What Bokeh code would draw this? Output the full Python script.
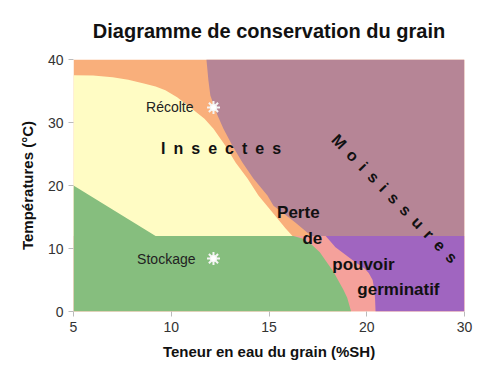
from bokeh.plotting import figure
from bokeh.models import FixedTicker, Range1d
from bokeh.embed import file_html
from bokeh.resources import INLINE

# ---- data (real %SH on x, °C on y) ----
x_tick_values = [5, 10, 15, 20, 30]
x_tick_labels = ["5", "10", "15", "20", "30"]
y_tick_values = [0, 10, 20, 30, 40]

mauve_edge_x = [11.8, 11.9, 12.0, 12.37, 12.67, 13.13, 13.64, 14.2, 14.92, 15.23, 15.69, 16.36, 16.97, 17.2]
mauve_edge_y = [40, 36.7, 34.3, 31.1, 29.0, 26.3, 23.65, 21.1, 18.4, 16.8, 15.7, 14.1, 12.5, 12.0]

yellow_edge_x = [5, 6.0, 7.0, 7.8, 8.6, 9.2, 9.7, 10.3, 10.8, 11.3, 11.7, 12.16, 12.77, 13.29, 13.9, 14.46, 15.18, 15.84, 16.2]
yellow_edge_y = [37.5, 37.45, 37.2, 36.8, 36.2, 35.7, 35.1, 34.0, 32.8, 31.6, 30.6, 29.0, 26.3, 23.65, 21.1, 18.4, 15.7, 13.2, 12.0]

green_x = [5, 5, 9.2, 16.25, 16.7, 17.12, 17.6, 18.0, 18.3, 18.55, 18.8, 19.0, 19.2]
green_y = [0, 20, 12, 12, 11.6, 10.8, 9.4, 7.6, 6.3, 4.9, 3.5, 2.2, 0]

violet_x = [17.9, 30, 30, 20.9, 20.85, 20.8, 20.6, 20.2, 19.9, 19.3, 18.4]
violet_y = [12, 12, 0, 0, 2.0, 3.3, 5.0, 6.1, 6.8, 8.1, 10.2]

pink_x = [5, 30, 30, 5]
pink_y = [0, 0, 12, 12]

orange_x = [5, 30, 30, 5]
orange_y = [0, 0, 40, 40]

star_x = [12.16, 12.16]
star_y = [32.4, 8.4]
star_names = ["Récolte", "Stockage"]
small_label_x = [11.14, 11.24]

big_labels = ["Perte", "de", "pouvoir", "germinatif"]
big_label_x = [16.5, 17.22, 19.83, 23.24]
big_label_y = [15.7, 11.6, 7.5, 3.5]

insectes_pos = (12.55, 25.9)
moisissures_pos = (22.84, 17.9)


def disp(x):
    """Axis between 20 and 30 is drawn at half scale."""
    return x if x <= 20 else 20 + (x - 20) / 2.0


def dl(xs):
    return [disp(v) for v in xs]


FONT = "Liberation Sans"

p = figure(width=492, height=366, output_backend="svg", toolbar_location=None,
           x_range=Range1d(5, 25), y_range=Range1d(0, 40),
           min_border_left=73, min_border_right=28, min_border_top=59, min_border_bottom=55)

p.title.text = "Diagramme de conservation du grain"
p.title.text_font = FONT
p.title.text_font_size = "20px"
p.title.text_font_style = "bold"
p.title.align = "center"
p.title.text_color = "#111111"
p.title.standoff = 35

p.grid.visible = False
p.outline_line_color = None
p.background_fill_color = "white"

orange = "#F9AF7B"
mauve = "#B68596"
yellow = "#FFFCC4"
green = "#86BE7E"
pink = "#F5A19B"
violet = "#A065C0"

p.patch(dl(orange_x), orange_y, fill_color=orange, line_color=None)
p.patch(dl(mauve_edge_x + [30, 30]), mauve_edge_y + [12, 40], fill_color=mauve, line_color=None)
p.patch(dl(yellow_edge_x + [5]), yellow_edge_y + [12], fill_color=yellow, line_color=None)
p.patch(dl(pink_x), pink_y, fill_color=pink, line_color=None)
p.patch(dl(green_x), green_y, fill_color=green, line_color=None)
p.patch(dl(violet_x), violet_y, fill_color=violet, line_color=None)

# stars
p.scatter(dl(star_x), star_y, marker="circle", size=7, fill_color="white", line_color=None)
p.scatter(dl(star_x), star_y, marker="asterisk", size=13, line_color="#f4f4f4", line_width=2)
p.scatter(dl(star_x), star_y, marker="circle", size=5, fill_color="white", line_color=None)

p.text(dl(small_label_x), star_y, text=star_names, text_font={"value": FONT}, text_font_size="14px",
       text_align="right", text_baseline="middle", text_color="#222222")

p.text(dl(big_label_x), big_label_y, text=big_labels, text_font={"value": FONT}, text_font_size="17px",
       text_font_style="bold", text_align="center", text_baseline="middle", text_color="#111111")

sp = "\u2002"
p.text([disp(insectes_pos[0])], [insectes_pos[1]], text=[sp.join("Insectes")], text_font={"value": FONT},
       text_font_size="16px", text_font_style="bold", text_align="center", text_baseline="middle",
       text_color="#111111")
p.text([disp(moisissures_pos[0])], [moisissures_pos[1]], text=[sp.join("Moisissures")], text_font={"value": FONT},
       text_font_size="16px", text_font_style="bold", text_align="center", text_baseline="middle",
       text_color="#111111", angle=-0.80)

# axes
p.xaxis.ticker = FixedTicker(ticks=dl(x_tick_values))
p.xaxis.major_label_overrides = {disp(v): s for v, s in zip(x_tick_values, x_tick_labels)}
p.yaxis.ticker = FixedTicker(ticks=y_tick_values)
for ax in (p.xaxis, p.yaxis):
    ax.axis_line_color = None
    ax.major_tick_line_color = "#bbbbbb"
    ax.major_tick_out = 5
    ax.major_tick_in = 0
    ax.minor_tick_line_color = None
    ax.major_label_text_font = FONT
    ax.major_label_text_font_size = "14px"
    ax.major_label_text_color = "#333333"
    ax.axis_label_text_font = FONT
    ax.axis_label_text_font_size = "15px"
    ax.axis_label_text_font_style = "bold"
    ax.axis_label_text_color = "#111111"
p.xaxis.axis_label = "Teneur en eau du grain (%SH)"
p.yaxis.axis_label = "Températures (°C)"
p.xaxis.major_label_standoff = 5
p.yaxis.major_label_standoff = 5
p.xaxis.axis_label_standoff = 8
p.yaxis.axis_label_standoff = 9

open("out.html", "w").write(file_html(p, INLINE))
